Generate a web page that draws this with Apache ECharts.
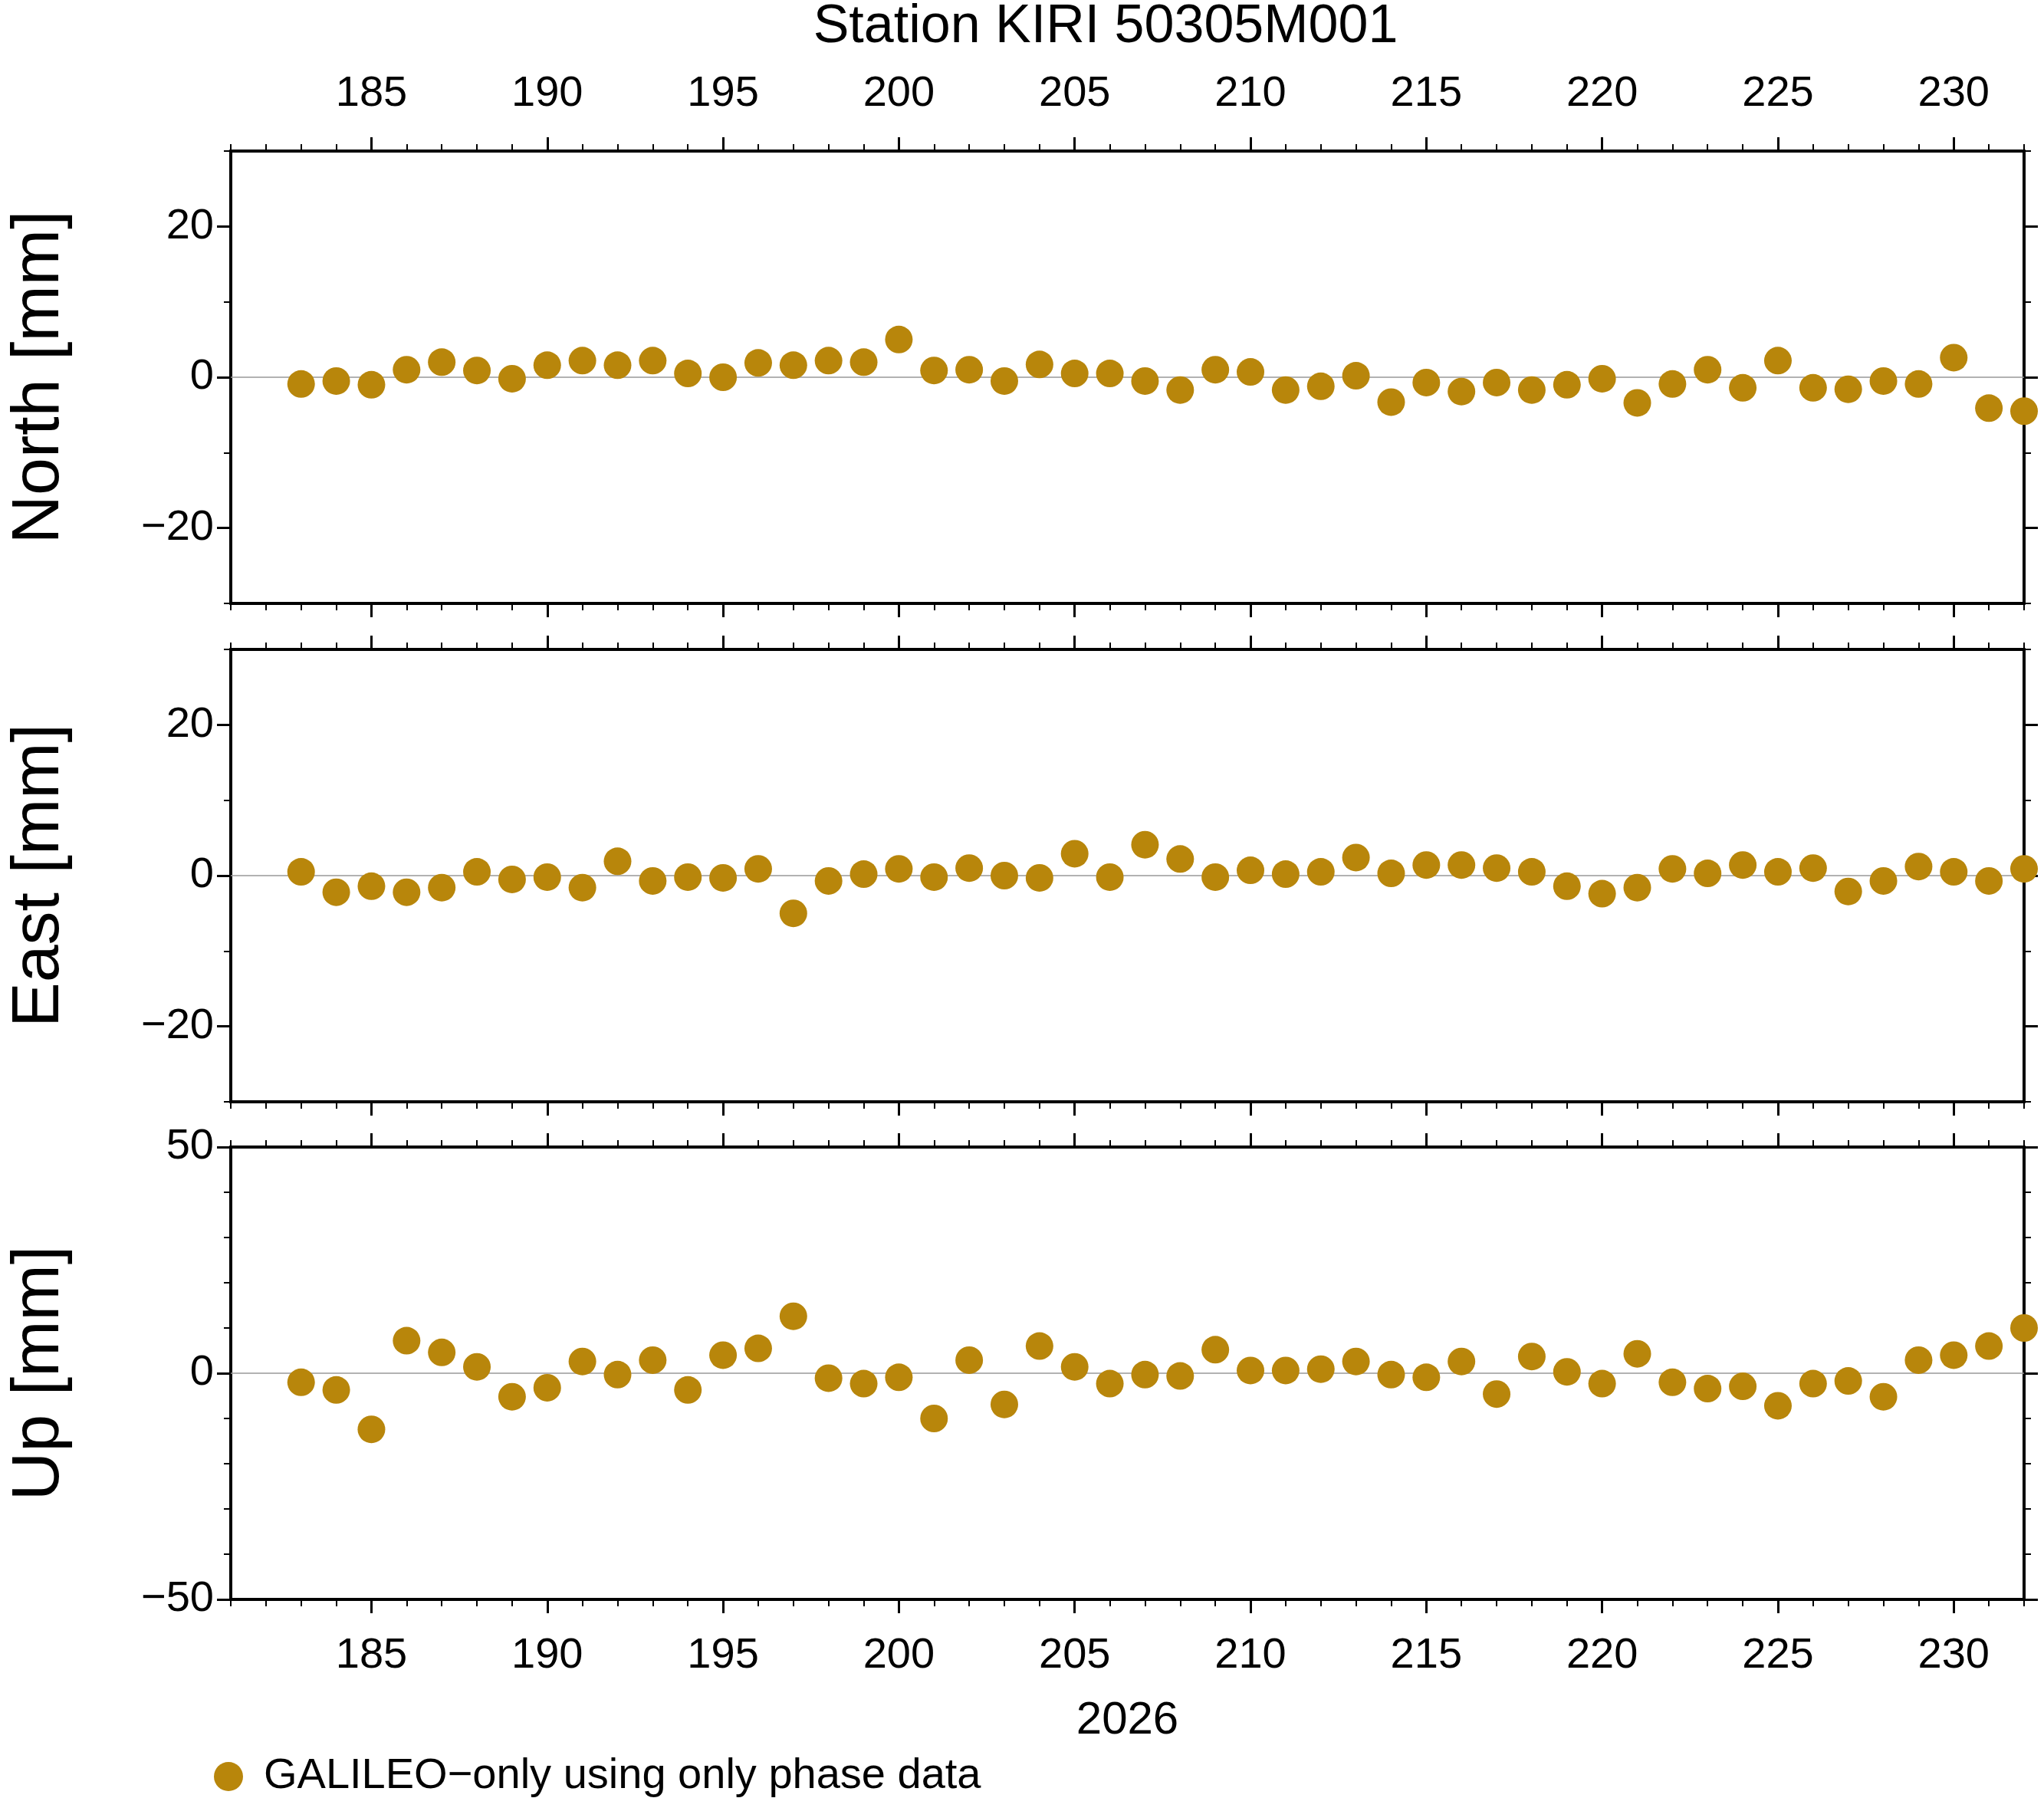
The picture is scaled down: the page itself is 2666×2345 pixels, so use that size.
<!DOCTYPE html>
<html><head><meta charset="utf-8">
<script src="https://cdn.jsdelivr.net/npm/echarts@6/dist/echarts.min.js"></script>
<style>html,body{margin:0;padding:0;background:#fff}#c{width:2666px;height:2345px}</style>
</head><body><div id="c"></div>
<script>
const days = [];
for (let d = 183; d <= 232; d++) days.push(d);
const north = [-0.9,-0.5,-1,1,2,0.9,-0.2,1.6,2.2,1.6,2.2,0.5,0,1.9,1.6,2.2,2,5,0.9,1,-0.5,1.7,0.5,0.5,-0.5,-1.7,1,0.7,-1.7,-1.2,0.2,-3.3,-0.7,-1.9,-0.7,-1.7,-1,-0.2,-3.4,-0.9,1,-1.4,2.2,-1.4,-1.6,-0.5,-0.9,2.6,-4.1,-4.5];
const east = [0.5,-2.2,-1.4,-2.2,-1.6,0.5,-0.5,-0.2,-1.6,1.9,-0.7,-0.2,-0.3,0.9,-5,-0.7,0.2,0.9,-0.2,1,0,-0.3,2.9,-0.2,4.1,2.2,-0.2,0.7,0.2,0.5,2.4,0.3,1.4,1.4,1,0.5,-1.4,-2.4,-1.6,0.9,0.3,1.4,0.5,1,-2.1,-0.7,1.2,0.5,-0.7,0.9];
const up = [-2,-3.7,-12.4,7.2,4.6,1.4,-5.2,-3.2,2.6,-0.3,2.9,-3.7,4,5.5,12.6,-1.1,-2.3,-0.9,-10,2.9,-6.9,6,1.4,-2.3,-0.3,-0.6,5.2,0.6,0.6,0.9,2.6,-0.3,-0.9,2.6,-4.6,3.7,0.3,-2.3,4.3,-2,-3.4,-2.9,-7.2,-2.3,-1.7,-5.2,2.9,4,6,10];
const xMajor = [185,190,195,200,205,210,215,220,225,230];
const panels = [
  {name:'North [mm]', data:north, min:-30, max:30, major:[-20,0,20]},
  {name:'East [mm]', data:east, min:-30, max:30, major:[-20,0,20]},
  {name:'Up [mm]', data:up, min:-50, max:50, major:[-50,0,50]}
];
const tops = [197, 847, 1496];
const H = 590, L = 277, W = 2363;
const font = 'Liberation Sans, Arial, sans-serif';
const color = '#b8860b';
const grid = [], xAxis = [], yAxis = [], series = [];
panels.forEach((p, i) => {
  grid.push({left:L, top:tops[i], width:W, height:H});
  const base = {type:'value', gridIndex:i, min:181, max:232, splitLine:{show:false},
    axisLine:{show:true, onZero:false, lineStyle:{color:'#000', width:4}}};
  ['bottom','top'].forEach(pos => {
    const showLbl = (pos==='top' && i===0) || (pos==='bottom' && i===2);
    xAxis.push(Object.assign({}, base, {position:pos, interval:1,
      axisTick:{show:true, length:9, lineStyle:{width:2, color:'#000'}}, axisLabel:{show:false}}));
    xAxis.push(Object.assign({}, base, {position:pos,
      axisTick:{show:true, length:18, customValues:xMajor, lineStyle:{width:3, color:'#000'}},
      axisLabel:{show:showLbl, customValues:xMajor, fontSize:56, color:'#000', fontFamily:font, margin:46},
      name: (showLbl && pos==='bottom') ? '2026' : '', nameLocation:'middle', nameGap:128,
      nameTextStyle:{fontSize:60, color:'#000', fontFamily:font}}));
  });
  const yb = {type:'value', gridIndex:i, min:p.min, max:p.max, splitLine:{show:false},
    axisLine:{show:true, onZero:false, lineStyle:{color:'#000', width:4}}};
  ['left','right'].forEach(pos => {
    yAxis.push(Object.assign({}, yb, {position:pos, interval:10,
      axisTick:{show:true, length:9, lineStyle:{width:2, color:'#000'}}, axisLabel:{show:false}}));
    yAxis.push(Object.assign({}, yb, {position:pos,
      axisTick:{show:true, length:18, customValues:p.major, lineStyle:{width:3, color:'#000'}},
      axisLabel:{show:pos==='left', customValues:p.major, fontSize:56, color:'#000', fontFamily:font, margin:22,
        formatter:v => v < 0 ? '\u2212' + Math.abs(v) : String(v)},
      name: pos==='left' ? p.name : '', nameLocation:'middle', nameGap:205,
      nameTextStyle:{fontSize:88, color:'#000', fontFamily:font}}));
  });
  series.push({type:'scatter', name:'GALILEO\u2212only using only phase data',
    xAxisIndex:i*4, yAxisIndex:i*4, clip:false, symbolSize:36,
    itemStyle:{color:color, opacity:1},
    data: days.map((d, k) => [d, p.data[k]]),
    markLine:{silent:true, symbol:'none', label:{show:false}, animation:false,
      lineStyle:{color:'#999', width:1.5, type:'solid'}, data:[{yAxis:0}]},
    z:5});
});
const chart = echarts.init(document.getElementById('c'));
chart.setOption({
  animation:false, backgroundColor:'#fff',
  title:{text:'Station KIRI 50305M001', left:1437, textAlign:'center', top:-4,
    textStyle:{fontSize:70, fontWeight:'normal', color:'#000', fontFamily:font}},
  legend:{data:['GALILEO\u2212only using only phase data'], left:274, top:2284, itemWidth:38, itemHeight:38,
    itemGap:20, textStyle:{fontSize:56, color:'#000', fontFamily:font, padding:[0,0,0,22]}},
  grid, xAxis, yAxis, series
});
</script></body></html>
